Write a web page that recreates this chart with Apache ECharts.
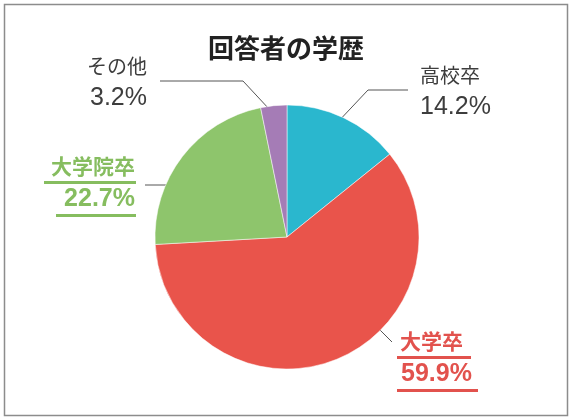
<!DOCTYPE html>
<html>
<head>
<meta charset="utf-8">
<script src="https://cdn.jsdelivr.net/npm/echarts@6/dist/echarts.min.js"></script>
<style>
html,body{margin:0;padding:0;background:#fff;}
#c{width:572px;height:420px;}
</style>
</head>
<body>
<div id="c"></div>
<script>
// ---- data ----
const title = '回答者の学歴';
const categories = ['高校卒', '大学卒', '大学院卒', 'その他'];
const values = [14.2, 59.9, 22.7, 3.2];

// ---- styles / layout (not data) ----
const sliceColors = ['#2ab7ce', '#e9544b', '#8ec56c', '#a57cb6'];
const grayText = '#3d3d3d';
const greenText = '#86bd5f';
const redText = '#e2524d';
const labelFont = '"Liberation Sans", "Noto Sans CJK JP", sans-serif';

const labelAnchors = [
  { x: 420, y: 62, align: 'left', line: [[335, 125], [368, 90], [408, 90]] },
  { x: 397, y: 331, align: 'left', line: [[367, 317], [392, 342]] },
  { x: 136, y: 156, align: 'right', line: [[181, 185], [145, 185]] },
  { x: 147, y: 53, align: 'right', line: [[270, 110], [243, 81], [160, 81]] }
];

function plainLabel() {
  return {
    formatter: '{n|{b}}\n{v|{c}%}',
    rich: {
      n: { fontSize: 20, color: grayText, lineHeight: 30, fontFamily: labelFont },
      v: { fontSize: 25, color: grayText, lineHeight: 30, fontFamily: labelFont }
    }
  };
}
function underlinedLabel(color, u1, u2, padN, padV) {
  return {
    formatter: '{n|{b}}\n{u1| }\n{v|{c}%}\n{u2| }',
    rich: {
      n: { fontSize: 21, fontWeight: 'bold', color: color, lineHeight: 25, fontFamily: labelFont, padding: padN },
      u1: { width: u1, height: 3, lineHeight: 3, fontSize: 2, backgroundColor: color },
      v: { fontSize: 25, fontWeight: 'bold', color: color, lineHeight: 30, fontFamily: labelFont, padding: padV },
      u2: { width: u2, height: 3, lineHeight: 3, fontSize: 2, backgroundColor: color }
    }
  };
}
const labelStyles = [
  plainLabel(),
  underlinedLabel(redText, 74, 81, [0, 0, 0, 3], [0, 0, 0, 4]),
  underlinedLabel(greenText, 92, 80, [0, 1, 0, 0], [0, 1, 0, 0]),
  plainLabel()
];

const chart = echarts.init(document.getElementById('c'));
chart.setOption({
  animation: false,
  backgroundColor: '#fff',
  title: {
    text: title,
    left: 'center',
    top: 30,
    textStyle: { fontSize: 26, fontWeight: 'bold', color: '#222', fontFamily: '"Noto Sans CJK JP", sans-serif' }
  },
  graphic: [{
    type: 'rect',
    shape: { x: 4.5, y: 4.5, width: 563, height: 411 },
    style: { fill: 'none', stroke: '#8c8c8c', lineWidth: 1.5 },
    silent: true
  }],
  series: [{
    type: 'pie',
    center: [287, 237],
    radius: 132,
    startAngle: 90,
    clockwise: true,
    avoidLabelOverlap: false,
    itemStyle: { borderColor: '#ffffff', borderWidth: 0.5 },
    label: { show: true, position: 'outside' },
    labelLine: { show: true, smooth: false, lineStyle: { color: '#555', width: 1 } },
    labelLayout: function (p) {
      const a = labelAnchors[p.dataIndex];
      return { x: a.x, y: a.y, align: a.align, verticalAlign: 'top', labelLinePoints: a.line };
    },
    emphasis: { disabled: true },
    data: categories.map((name, i) => ({
      name: name,
      value: values[i],
      itemStyle: { color: sliceColors[i] },
      label: labelStyles[i]
    }))
  }]
});
</script>
</body>
</html>
